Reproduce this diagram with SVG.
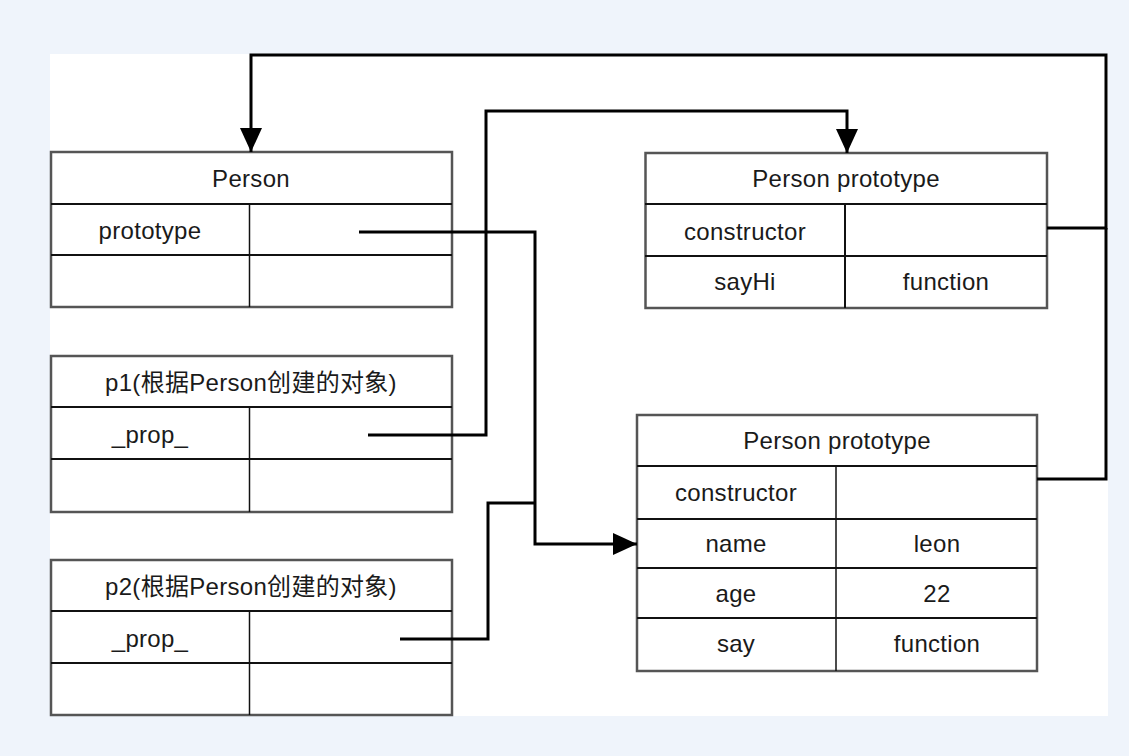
<svg xmlns="http://www.w3.org/2000/svg" width="1129" height="756" viewBox="0 0 1129 756">
<defs>
<style>
.bg{fill:#eff4fb}
.box{fill:#fff;stroke:#555;stroke-width:2.5}
.ln{stroke:#111;stroke-width:2}
.cl{stroke:#111;stroke-width:1.5}
.t{font-family:"Liberation Sans",Arial,"Noto Sans CJK SC",sans-serif;font-size:24px;letter-spacing:0.3px;fill:#1a1a1a;text-anchor:middle}
.c{fill:none;stroke:#000;stroke-width:3}
</style>
<marker id="ah" viewBox="0 0 24 22" refX="24" refY="11" markerWidth="24" markerHeight="22" markerUnits="userSpaceOnUse" orient="auto">
<path d="M0,0 L24,11 L0,22 Z" fill="#000"/>
</marker>
</defs>
<rect class="bg" x="0" y="0" width="1129" height="756"/>
<rect x="50" y="54" width="1058" height="662" fill="#fff"/>

<g id="person">
<rect class="box" x="51" y="152" width="401" height="155"/>
<line class="ln" x1="51" y1="204" x2="452" y2="204"/>
<line class="ln" x1="51" y1="255" x2="452" y2="255"/>
<line class="cl" x1="249.5" y1="204" x2="249.5" y2="307"/>
<text class="t" x="251" y="187">Person</text>
<text class="t" x="150" y="239">prototype</text>
</g>

<g id="p1">
<rect class="box" x="51" y="356" width="401" height="156"/>
<line class="ln" x1="51" y1="407" x2="452" y2="407"/>
<line class="ln" x1="51" y1="459" x2="452" y2="459"/>
<line class="cl" x1="249.5" y1="407" x2="249.5" y2="512"/>
<text class="t" x="251" y="391">p1(根据Person创建的对象)</text>
<text class="t" x="150" y="443">_prop_</text>
</g>

<g id="p2">
<rect class="box" x="51" y="560" width="401" height="155"/>
<line class="ln" x1="51" y1="611" x2="452" y2="611"/>
<line class="ln" x1="51" y1="663" x2="452" y2="663"/>
<line class="cl" x1="249.5" y1="611" x2="249.5" y2="715"/>
<text class="t" x="251" y="595">p2(根据Person创建的对象)</text>
<text class="t" x="150" y="647">_prop_</text>
</g>

<g id="proto1">
<rect class="box" x="645.5" y="153" width="401.5" height="155"/>
<line class="ln" x1="645" y1="204" x2="1047" y2="204"/>
<line class="ln" x1="645" y1="256" x2="1047" y2="256"/>
<line class="ln" x1="845" y1="204" x2="845" y2="308"/>
<text class="t" x="846" y="187">Person prototype</text>
<text class="t" x="745" y="240">constructor</text>
<text class="t" x="745" y="290">sayHi</text>
<text class="t" x="946" y="290">function</text>
</g>

<g id="proto2">
<rect class="box" x="637" y="415" width="400" height="256"/>
<line class="ln" x1="637" y1="466" x2="1037" y2="466"/>
<line class="ln" x1="637" y1="519" x2="1037" y2="519"/>
<line class="ln" x1="637" y1="568" x2="1037" y2="568"/>
<line class="ln" x1="637" y1="618" x2="1037" y2="618"/>
<line class="cl" x1="836" y1="466" x2="836" y2="671"/>
<text class="t" x="837" y="449">Person prototype</text>
<text class="t" x="736" y="501">constructor</text>
<text class="t" x="736" y="552">name</text>
<text class="t" x="937" y="552">leon</text>
<text class="t" x="736" y="602">age</text>
<text class="t" x="937" y="602">22</text>
<text class="t" x="736" y="652">say</text>
<text class="t" x="937" y="652">function</text>
</g>

<g id="connectors">
<path class="c" d="M1047,228 H1106 V55 H251 V152" marker-end="url(#ah)"/>
<path class="c" d="M1037,479 H1106 V228"/>
<path class="c" d="M368,435 H486 V111 H847 V153" marker-end="url(#ah)"/>
<path class="c" d="M359,232 H535 V544 H637" marker-end="url(#ah)"/>
<path class="c" d="M400,639 H488 V503 H535"/>
</g>
</svg>
